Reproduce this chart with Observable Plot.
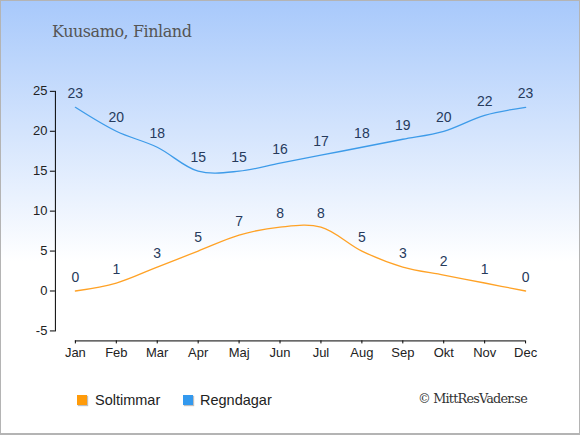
<!DOCTYPE html>
<html>
<head>
<meta charset="utf-8">
<script src="https://cdn.jsdelivr.net/npm/d3@7"></script>
<script src="https://cdn.jsdelivr.net/npm/@observablehq/plot@0.6"></script>
<style>
  html, body { margin: 0; padding: 0; }
  #wrap {
    position: relative; width: 580px; height: 435px; box-sizing: border-box;
    border: 1px solid #b4b4b4; border-bottom-width: 2px;
    background: linear-gradient(to bottom, #a8c9fb 0px, #ffffff 260px, #ffffff 435px);
    overflow: hidden;
    font-family: "Liberation Sans", Arial, sans-serif;
  }
  #title {
    position: absolute; left: 51px; top: 21px; letter-spacing: -0.45px;
    font-family: "DejaVu Serif", Georgia, serif; font-size: 16px; color: #555;
  }
  #chart { position: absolute; left: -1px; top: -1px; }
  .leg { position: absolute; top: 390px; font-size: 14.5px; color: #222; line-height: 18px; }
  .sw { position: absolute; top: 394px; width: 10px; height: 10px; box-shadow: 1px 1px 1px rgba(0,0,0,0.25); }
  #copy {
    position: absolute; left: 417px; top: 389px; letter-spacing: -0.8px;
    font-family: "DejaVu Serif", Georgia, serif; font-size: 12.8px; color: #333; line-height: 18px;
  }
</style>
</head>
<body>
<div id="wrap">
  <div id="title">Kuusamo, Finland</div>
  <div id="chart"></div>
  <div class="sw" style="left:76px;background:#ff9b0a"></div>
  <div class="leg" style="left:94px">Soltimmar</div>
  <div class="sw" style="left:182px;background:#3399ee"></div>
  <div class="leg" style="left:199px">Regndagar</div>
  <div id="copy">© MittResVader.se</div>
</div>
<script>
const months = ["Jan","Feb","Mar","Apr","Maj","Jun","Jul","Aug","Sep","Okt","Nov","Dec"];
const soltimmar = [0, 1, 3, 5, 7, 8, 8, 5, 3, 2, 1, 0];
const regndagar = [23, 20, 18, 15, 15, 16, 17, 18, 19, 20, 22, 23];
const yTicks = [-5, 0, 5, 10, 15, 20, 25];
const yDomain = [-6.25, 25];

const rows = months.map((m, i) => ({month: m, sol: soltimmar[i], regn: regndagar[i]}));

const orange = "#ffa226";
const blue = "#3d9be9";
const labelColor = "#263a5c";

const plot = Plot.plot({
  width: 580,
  height: 435,
  marginTop: 91,
  marginBottom: 94,
  marginLeft: 55,
  marginRight: 35,
  style: {background: "transparent", fontFamily: "'Liberation Sans', Arial, sans-serif", overflow: "visible"},
  x: {type: "point", domain: months, padding: 0.47},
  y: {domain: yDomain},
  marks: [
    Plot.frame({anchor: "left", insetBottom: 10, stroke: "#000"}),
    Plot.axisY({ticks: yTicks, tickFormat: d => String(d), tickSize: 5, tickPadding: 3, label: null, fontSize: 13, fill: "#222", stroke: "#000"}),
    Plot.ruleY([yDomain[0]], {x1: () => months[0], x2: () => months[months.length - 1], stroke: "#000"}),
    Plot.axisX({tickSize: 3, tickPadding: 4, label: null, fontSize: 13, fill: "#222", stroke: "#000"}),
    Plot.line(rows, {x: "month", y: "regn", curve: "catmull-rom", stroke: blue, strokeWidth: 1.3}),
    Plot.line(rows, {x: "month", y: "sol", curve: "catmull-rom", stroke: orange, strokeWidth: 1.3}),
    Plot.text(rows, {x: "month", y: "regn", text: d => String(d.regn), dy: -14, fill: labelColor, fontSize: 14}),
    Plot.text(rows, {x: "month", y: "sol", text: d => String(d.sol), dy: -14, fill: labelColor, fontSize: 14})
  ]
});
document.getElementById("chart").appendChild(plot);
</script>
</body>
</html>
